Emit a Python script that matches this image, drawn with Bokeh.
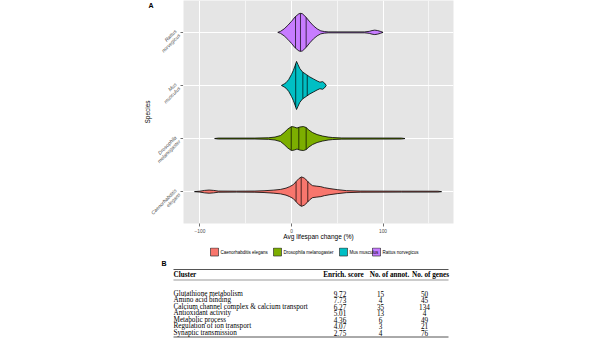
import numpy as np
from bokeh.plotting import figure
from bokeh.models import Range1d, FixedTicker
from bokeh.layouts import column, row
from bokeh.embed import file_html
from bokeh.resources import INLINE
from bokeh.core.properties import value

# ---------------- data ----------------
species = ["Caenorhabditis elegans", "Drosophila melanogaster", "Mus musculus", "Rattus norvegicus"]
species_line1 = ["Caenorhabditis", "Drosophila", "Mus", "Rattus"]
species_line2 = ["elegans", "melanogaster", "musculus", "norvegicus"]
colors = ["#F8766D", "#7CAE00", "#00BFC4", "#C77CFF"]

# violin profiles: avg lifespan change (%) and half-width (category units)
celegans_x = [-106, -100, -95, -90, -85, -80, -60, -40, -30, -20, -12, -6, -2, 2, 5, 8, 11, 14, 17, 20, 23, 27, 32, 36, 42, 50, 60, 75, 120, 160, 164]
celegans_w = [0, 0.009, 0.023, 0.030, 0.023, 0.011, 0.009, 0.011, 0.017, 0.028, 0.042, 0.066, 0.094, 0.132, 0.189, 0.245, 0.277, 0.255, 0.208, 0.151, 0.113, 0.104, 0.094, 0.075, 0.057, 0.038, 0.019, 0.011, 0.009, 0.008, 0]
dmel_x = [-84, -80, -40, -25, -18, -12, -8, -4, 0, 3, 6, 9, 13, 16, 19, 23, 28, 34, 40, 45, 55, 120, 124]
dmel_w = [0, 0.009, 0.009, 0.015, 0.028, 0.057, 0.113, 0.179, 0.226, 0.217, 0.198, 0.217, 0.226, 0.208, 0.160, 0.113, 0.075, 0.047, 0.028, 0.019, 0.011, 0.009, 0]
mmus_x = [-11, -8, -6, -3, 0, 2, 4, 5.5, 7, 9, 12, 16, 20, 24, 28, 31, 34, 36, 38]
mmus_w = [0, 0.028, 0.051, 0.113, 0.208, 0.283, 0.377, 0.453, 0.396, 0.321, 0.255, 0.208, 0.160, 0.123, 0.085, 0.062, 0.072, 0.047, 0]
rnor_x = [-15, -12, -8, -4, 0, 4, 8, 10, 12, 16, 20, 24, 28, 32, 36, 40, 80, 85, 88, 91, 94, 97, 100]
rnor_w = [0, 0.019, 0.066, 0.132, 0.208, 0.292, 0.349, 0.358, 0.349, 0.283, 0.198, 0.123, 0.066, 0.028, 0.015, 0.009, 0.009, 0.019, 0.034, 0.042, 0.034, 0.019, 0]

# quartiles (25%, 50%, 75%)
celegans_q = [5, 10.6, 17.8]
dmel_q = [-0.3, 8, 16]
mmus_q = [4.6, 12.4, 17.2]
rnor_q = [4.4, 9.8, 16]

profiles_x = [celegans_x, dmel_x, mmus_x, rnor_x]
profiles_w = [celegans_w, dmel_w, mmus_w, rnor_w]
quartiles = [celegans_q, dmel_q, mmus_q, rnor_q]

x_ticks = [-100, 0, 100]
x_minor = [-50, 50, 150]

# table (panel B)
table_header = ["Cluster", "Enrich. score", "No. of annot.", "No. of genes"]
clusters = ["Glutathione metabolism", "Amino acid binding", "Calcium channel complex & calcium transport",
            "Antioxidant activity", "Metabolic process", "Regulation of ion transport", "Synaptic transmission"]
enrich_score = ["9.72", "7.73", "6.27", "5.01", "4.36", "4.07", "2.75"]
n_annot = [15, 4, 35, 13, 6, 3, 4]
n_genes = [50, 45, 134, 4, 49, 21, 76]

SANS = "Liberation Sans"
SERIF = "Liberation Serif"

yr = Range1d(0.4, 4.6)

# ---------------- panel A: violins ----------------
p = figure(width=401, height=247, x_range=Range1d(-118, 177), y_range=yr,
           output_backend="svg", toolbar_location=None, y_axis_location=None,
           min_border_left=0, min_border_right=131, min_border_top=0, min_border_bottom=24)
p.background_fill_color = "#E5E5E5"
p.border_fill_color = "white"
p.outline_line_color = None

for i, sp in enumerate(species):
    pos = i + 1
    xs = np.array(profiles_x[i], dtype=float)
    ws = np.array(profiles_w[i], dtype=float)
    px = list(xs) + list(xs[::-1])
    py = list(pos + ws) + list((pos - ws)[::-1])
    p.patch(px, py, fill_color=colors[i], line_color="black", line_width=0.8)
    q = np.array(quartiles[i], dtype=float)
    hw = np.interp(q, xs, ws)
    p.segment(x0=q, x1=q, y0=pos - hw, y1=pos + hw, line_color="black", line_width=0.7)

xa = p.xaxis[0]
xa.ticker = FixedTicker(ticks=x_ticks, minor_ticks=x_minor)
xa.axis_label = "Avg lifespan change (%)"
xa.axis_line_color = None
xa.major_tick_line_color = "#333333"
xa.major_tick_line_width = 0.7
xa.major_tick_in = 0
xa.major_tick_out = 3
xa.minor_tick_line_color = None
xa.major_label_text_font = SANS
xa.major_label_text_font_size = "4.8px"
xa.major_label_text_color = "#4D4D4D"
xa.major_label_standoff = 1
xa.axis_label_text_font = SANS
xa.axis_label_text_font_size = "6.5px"
xa.axis_label_text_font_style = "normal"
xa.axis_label_text_color = "black"
xa.axis_label_standoff = -3

p.xgrid.grid_line_color = "white"
p.xgrid.grid_line_width = 1
p.xgrid.minor_grid_line_color = "white"
p.xgrid.minor_grid_line_width = 0.6
p.ygrid.ticker = FixedTicker(ticks=[1, 2, 3, 4])
p.ygrid.grid_line_color = "white"
p.ygrid.grid_line_width = 1

# ---------------- left strip: species tick labels, y title, panel letter ----------------
lp = figure(width=183, height=247, x_range=Range1d(0, 180), y_range=yr,
            output_backend="svg", toolbar_location=None, y_axis_location="right", x_axis_location=None,
            min_border_left=0, min_border_right=0, min_border_top=0, min_border_bottom=24)
lp.outline_line_color = None
lp.grid.visible = False
lp.background_fill_color = "white"
lp.border_fill_color = "white"
la = lp.yaxis[0]
la.ticker = FixedTicker(ticks=[1, 2, 3, 4])
la.major_label_overrides = {1: "", 2: "", 3: "", 4: ""}
la.major_label_standoff = 0
la.axis_line_color = None
la.major_tick_line_color = "#333333"
la.major_tick_line_width = 0.7
la.major_tick_in = 0
la.major_tick_out = 3
la.minor_tick_line_color = None

unit_px = 223 / 4.2
d = 1.95
pos_list = [i + 1 for i in range(len(species))]
lp.text(x=[177 - d] * 4, y=[v + d / unit_px for v in pos_list], text=species_line1,
        angle=45, angle_units="deg", text_align="right", text_baseline="middle",
        text_font=value(SANS), text_font_size="5px", text_font_style="italic", text_color="#4D4D4D")
lp.text(x=[177 + d] * 4, y=[v - d / unit_px for v in pos_list], text=species_line2,
        angle=45, angle_units="deg", text_align="right", text_baseline="middle",
        text_font=value(SANS), text_font_size="5px", text_font_style="italic", text_color="#4D4D4D")
lp.text(x=[147], y=[2.5], text=["Species"], angle=90, angle_units="deg", text_align="center",
        text_baseline="middle", text_font=value(SANS), text_font_size="6.5px", text_color="black")
lp.text(x=[148], y=[4.6 - 5 / unit_px], text=["A"], text_align="left", text_baseline="middle",
        text_font=value(SANS), text_font_size="7px", text_font_style="bold", text_color="black")

# ---------------- panel B: legend + table ----------------
t = figure(width=584, height=97, x_range=Range1d(0, 584), y_range=Range1d(344, 247),
           output_backend="svg", toolbar_location=None, min_border=0,
           x_axis_location=None, y_axis_location=None)
t.frame_align = False
t.outline_line_color = None
t.grid.visible = False
t.background_fill_color = "white"
t.border_fill_color = "white"

legend_left = [210, 273, 339, 372]
t.rect(x=[lx + 4 for lx in legend_left], y=[251.5] * 4, width=8, height=8,
       fill_color=colors, line_color="#333333", line_width=0.7)
t.text(x=[lx + 10 for lx in legend_left], y=[251.5] * 4, text=species, text_align="left",
       text_baseline="middle", text_font=value(SANS), text_font_size="4.5px", text_color="black")

t.text(x=[161], y=[263], text=["B"], text_font=value(SANS), text_font_size="7px",
       text_font_style="bold", text_baseline="middle", text_align="left")

t.segment(x0=[173, 173, 173], x1=[448, 448, 448], y0=[269, 279.5, 336.5], y1=[269, 279.5, 336.5],
          line_color="#555555", line_width=[1.0, 0.6, 1.0])

head_x = [173, 343, 389, 430]
head_align = ["left", "center", "center", "center"]
for hx, ha, ht in zip(head_x, head_align, table_header):
    t.text(x=[hx], y=[274], text=[ht], text_font=value(SERIF), text_font_size="7.2px",
           text_font_style="bold", text_baseline="middle", text_align=ha, text_color="black")

row_y = [293 + 6.5 * i for i in range(len(clusters))]
t.text(x=[173] * len(clusters), y=row_y, text=clusters, text_font=value(SERIF), text_font_size="7.2px",
       text_baseline="middle", text_align="left", text_color="black")
t.text(x=[339.5] * len(clusters), y=row_y, text=enrich_score, text_font=value(SERIF), text_font_size="7.2px",
       text_baseline="middle", text_align="center", text_color="black")
t.text(x=[380] * len(clusters), y=row_y, text=[str(v) for v in n_annot], text_font=value(SERIF),
       text_font_size="7.2px", text_baseline="middle", text_align="center", text_color="black")
t.text(x=[424] * len(clusters), y=row_y, text=[str(v) for v in n_genes], text_font=value(SERIF),
       text_font_size="7.2px", text_baseline="middle", text_align="center", text_color="black")

layout = column(row(lp, p, spacing=0), t, spacing=0)
open("out.html", "w").write(file_html(layout, INLINE))
